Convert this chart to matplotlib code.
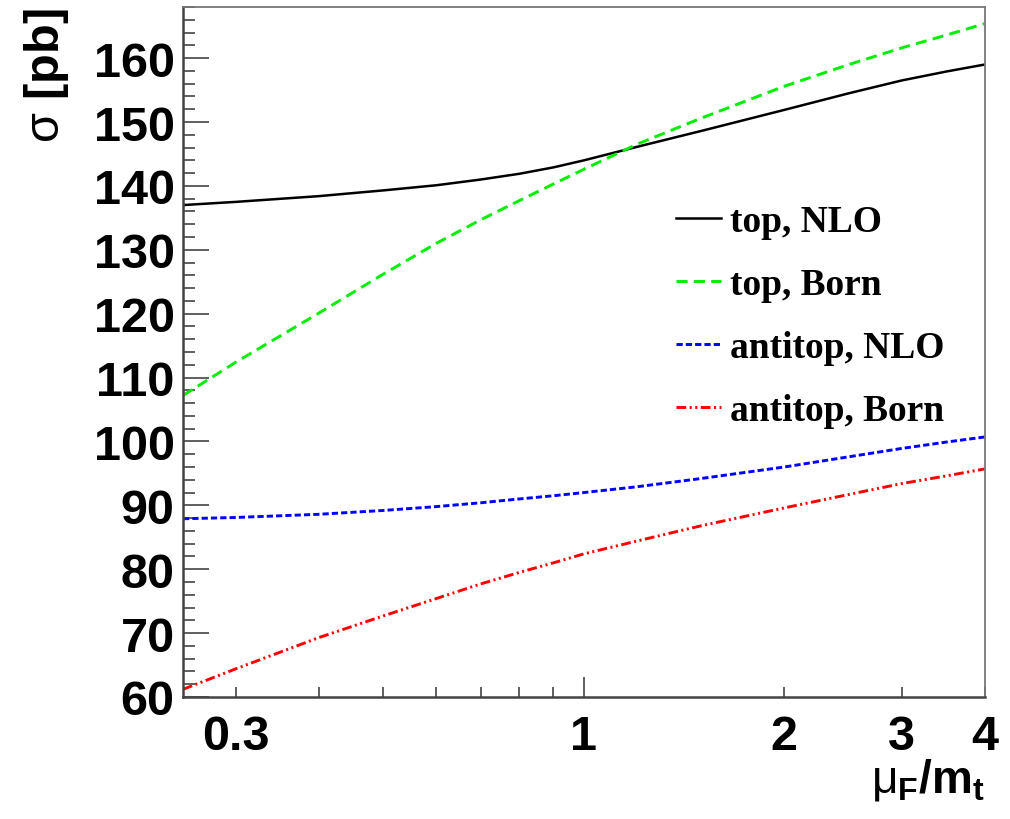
import numpy as np
import matplotlib
matplotlib.use('Agg')
import matplotlib.pyplot as plt
from matplotlib.ticker import FixedLocator, MultipleLocator, NullFormatter

plt.rcParams['mathtext.fontset'] = 'custom'
plt.rcParams['mathtext.rm'] = 'Liberation Sans'
plt.rcParams['mathtext.bf'] = 'Liberation Sans:bold'
plt.rcParams['mathtext.it'] = 'Liberation Sans:italic'
plt.rcParams['lines.scale_dashes'] = False

# factorisation scale mu_F / m_t
mu_ratio = [0.25, 0.3, 0.4, 0.5, 0.6, 0.7, 0.8, 0.9, 1.0, 1.2, 1.5, 2.0, 2.5, 3.0, 3.5, 4.0]

# cross sections in pb
top_nlo = [137.0, 137.5, 138.4, 139.3, 140.1, 141.0, 141.9, 142.9, 144.0,
           146.1, 148.6, 151.9, 154.5, 156.5, 157.9, 159.0]
top_born = [107.2, 112.4, 120.1, 126.2, 131.0, 134.7, 137.7, 140.3, 142.6,
            146.5, 150.6, 155.6, 159.0, 161.6, 163.6, 165.4]
antitop_nlo = [87.9, 88.1, 88.6, 89.2, 89.8, 90.4, 91.0, 91.5, 92.0,
               92.9, 94.2, 96.0, 97.6, 98.9, 99.9, 100.7]
antitop_born = [61.2, 64.4, 69.3, 72.7, 75.4, 77.7, 79.5, 81.0, 82.4,
                84.4, 86.8, 89.6, 91.7, 93.4, 94.6, 95.7]

labels = ['top, NLO', 'top, Born', 'antitop, NLO', 'antitop, Born']
x_ticks = [0.3, 1, 2, 3, 4]
x_ticklabels = ['0.3', '1', '2', '3', '4']

fig = plt.figure(figsize=(10.1, 8.2), dpi=100)
ax = fig.add_axes([0.1812, 0.1488, 0.7938, 0.8414])

ax.plot(mu_ratio, top_nlo, color='black', lw=1.8, label=labels[0])
ax.plot(mu_ratio, top_born, color='#00ee00', lw=2.1, dashes=(8, 4.5), label=labels[1])
ax.plot(mu_ratio, antitop_nlo, color='#0000ff', lw=2.1, dashes=(4.5, 2.2), label=labels[2])
ax.plot(mu_ratio, antitop_born, color='#ff0000', lw=2.1,
        dashes=(7, 2.5, 1.5, 2.5, 1.5, 2.5), label=labels[3])

ax.set_xscale('log')
ax.set_xlim(0.25, 4.0)
ax.set_ylim(60, 168)

bold = dict(family='Liberation Sans', weight='bold', size=35)

ax.xaxis.set_major_locator(FixedLocator(x_ticks))
ax.xaxis.set_minor_locator(FixedLocator([0.4, 0.5, 0.6, 0.7, 0.8, 0.9]))
ax.xaxis.set_minor_formatter(NullFormatter())
ax.set_xticklabels(x_ticklabels, fontdict=bold)
ax.yaxis.set_minor_locator(MultipleLocator(2))
ax.set_yticks(np.arange(60, 161, 10))
ax.set_yticklabels([str(v) for v in range(60, 161, 10)], fontdict=bold)

ax.tick_params(axis='both', which='both', direction='in', color='#444444',
               top=False, right=False)
ax.tick_params(axis='y', which='major', length=18.5, width=1.2, pad=6)
ax.tick_params(axis='y', which='minor', length=8.6, width=1.2)
ax.tick_params(axis='x', which='major', length=7.2, width=1.2, pad=12)
ax.tick_params(axis='x', which='minor', length=7.2, width=1.2)
# only the decade tick at 1 is drawn long
for t, v in zip(ax.xaxis.get_major_ticks(), x_ticks):
    if v == 1:
        t.tick1line.set_markersize(14.4)

for side in ['left', 'bottom']:
    ax.spines[side].set_color('#444444')
    ax.spines[side].set_linewidth(1.8)
for side in ['top', 'right']:
    ax.spines[side].set_color('#777777')
    ax.spines[side].set_linewidth(1.3)

ax.text(-0.17, 1.0, r'$\mathrm{\sigma}$ [pb]', transform=ax.transAxes, rotation=90,
        ha='center', va='top', fontsize=35, family='Liberation Sans', weight='bold')
ax.text(1.0, -0.085, r'$\mathrm{\mu}_{\mathbf{F}}$/m$_{\mathbf{t}}$', transform=ax.transAxes,
        ha='right', va='top', fontsize=33, family='Liberation Sans', weight='bold')

leg = ax.legend(loc='upper left', bbox_to_anchor=(0.615, 0.715), frameon=False,
                prop=dict(family='Liberation Serif', weight='bold', size=27),
                handlelength=1.2, handletextpad=0.25, labelspacing=0.75,
                borderpad=0, borderaxespad=0)

fig.savefig('out.png', dpi=100)
